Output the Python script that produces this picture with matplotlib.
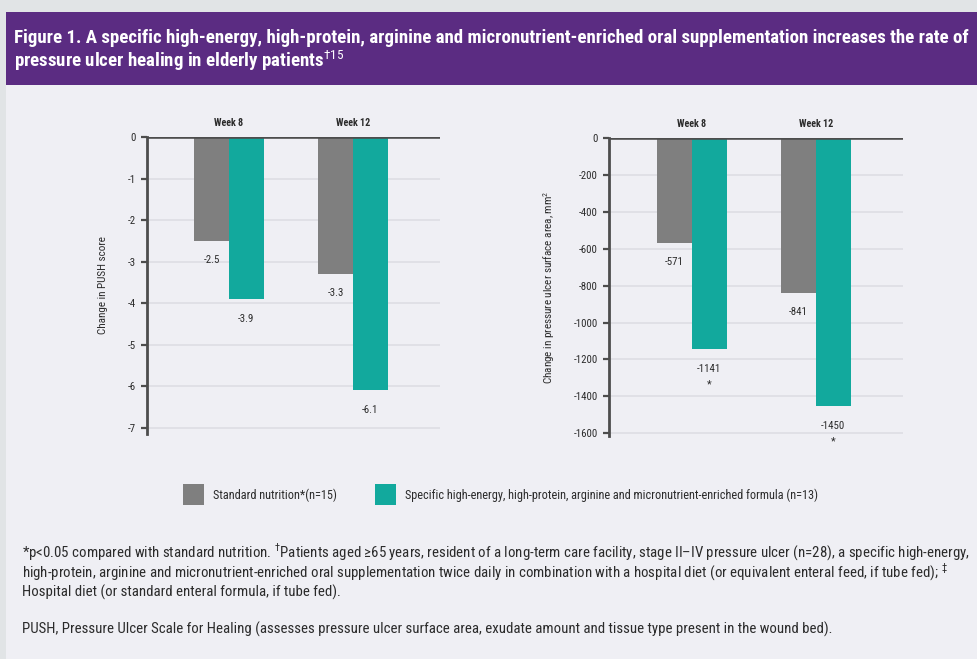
import matplotlib
matplotlib.use("Agg")
import matplotlib.pyplot as plt
from matplotlib.patches import Rectangle
from matplotlib import font_manager

# ---- data ----
weeks = ["Week 8", "Week 12"]
push_standard = [-2.5, -3.3]
push_enriched = [-3.9, -6.1]
area_standard = [-571, -841]
area_enriched = [-1141, -1450]
area_enriched_signif = [True, True]
push_ticks = [0, -1, -2, -3, -4, -5, -6, -7]
area_ticks = [0, -200, -400, -600, -800, -1000, -1200, -1400, -1600]

legend_labels = ["Standard nutrition*(n=15)",
                 "Specific high-energy, high-protein, arginine and micronutrient-enriched formula (n=13)"]

title_lines = ["Figure 1. A specific high-energy, high-protein, arginine and micronutrient-enriched oral supplementation increases the rate of",
               "pressure ulcer healing in elderly patients$^{\\dagger 15}$"]

footnotes = [
    "*p<0.05 compared with standard nutrition. $^{\\dagger}$Patients aged \u226565 years, resident of a long-term care facility, stage II\u2013IV pressure ulcer (n=28), a specific high-energy,",
    "high-protein, arginine and micronutrient-enriched oral supplementation twice daily in combination with a hospital diet (or equivalent enteral feed, if tube fed); $^{\\ddagger}$",
    "Hospital diet (or standard enteral formula, if tube fed).",
]
abbrev = "PUSH, Pressure Ulcer Scale for Healing (assesses pressure ulcer surface area, exudate amount and tissue type present in the wound bed)."

# ---- style ----
GRAY = "#7f7f7f"
TEAL = "#12a99d"
PURPLE = "#5b2c82"
PANEL = "#efeff4"
OUTER = "#e1e4e6"
AXIS = "#4d4d4d"
TEXT = "#2b2b2b"

names = {f.name for f in font_manager.fontManager.ttflist}
base_font = "DejaVu Sans"
for cand in ["Liberation Sans Narrow", "Roboto Condensed", "Open Sans Condensed",
             "Noto Sans Condensed", "Roboto", "Liberation Sans"]:
    if cand in names:
        base_font = cand
        break
plt.rcParams["font.family"] = [base_font, "DejaVu Sans"]
plt.rcParams["mathtext.fontset"] = "custom"
plt.rcParams["mathtext.rm"] = base_font
plt.rcParams["mathtext.bf"] = base_font + ":bold"

W, H = 977, 659
fig = plt.figure(figsize=(W / 100, H / 100), dpi=100)
fig.patch.set_facecolor(OUTER)
renderer = fig.canvas.get_renderer()


def fx(px):
    return px / W


def fy(py):
    return 1 - py / H


def fit_size(txt, target_px):
    """Scale a text's font size so that it spans target_px horizontally."""
    w = txt.get_window_extent(renderer=renderer).width
    return txt.get_fontsize() * target_px / w


# panel and header band
fig.patches.append(Rectangle((fx(6), 0), 1 - fx(6), fy(12), transform=fig.transFigure,
                             facecolor=PANEL, edgecolor="none", zorder=-2))
fig.patches.append(Rectangle((fx(6), fy(85)), 1 - fx(6), fy(12) - fy(85), transform=fig.transFigure,
                             facecolor=PURPLE, edgecolor="none", zorder=-1))

t1 = fig.text(fx(14), fy(43), title_lines[0], color="white", fontsize=11, fontweight="bold",
              va="baseline", ha="left")
size_title = fit_size(t1, 950)
t1.set_fontsize(size_title)
fig.text(fx(14), fy(67), title_lines[1], color="white", fontsize=size_title, fontweight="bold",
         va="baseline", ha="left")

bar_w = 0.28


def make_panel(left_px, right_px, top_px, bottom_px, centre_px, ymin, ticks, std, enr,
               ylabel, fmt, pad, signif=None):
    ax = fig.add_axes([fx(left_px), fy(bottom_px), fx(right_px - left_px), (bottom_px - top_px) / H])
    ax.set_facecolor("none")
    spacing = 124.0
    x0 = (left_px - centre_px) / spacing
    x1 = (right_px - centre_px) / spacing
    ax.set_xlim(x0, x1)
    ax.set_ylim(ymin, 0)
    xs = list(range(len(weeks)))
    ax.bar([x - bar_w / 2 for x in xs], std, width=bar_w, color=GRAY, zorder=2)
    ax.bar([x + bar_w / 2 for x in xs], enr, width=bar_w, color=TEAL, zorder=2)

    for t in ticks[1:]:
        ax.axhline(t, color="#dedde4", lw=1.2, zorder=1)
    ax.axhline(0, color=AXIS, lw=2.6, zorder=3)

    for s in ["top", "right", "bottom"]:
        ax.spines[s].set_visible(False)
    ax.spines["left"].set_color(AXIS)
    ax.spines["left"].set_linewidth(2.0)
    ax.set_xticks([])
    ax.set_yticks(ticks)
    ax.set_yticklabels([str(t) for t in ticks])
    ax.tick_params(axis="y", direction="out", length=4, width=1.6, color=AXIS,
                   labelsize=7.8, labelcolor=TEXT, pad=4)
    ax.set_ylabel(ylabel, fontsize=8, color=TEXT, labelpad=pad)

    for i, w in enumerate(weeks):
        ax.annotate(w, (i, 0), xytext=(0, 9), textcoords="offset pixels",
                    ha="center", va="bottom", fontsize=7.2, fontweight="bold", color=TEXT)
        ax.annotate(fmt(std[i]), (i - bar_w / 2, std[i]), xytext=(0, -19), textcoords="offset pixels",
                    ha="center", va="center", fontsize=7.8, color=TEXT)
        ax.annotate(fmt(enr[i]), (i + bar_w / 2, enr[i]), xytext=(0, -20), textcoords="offset pixels",
                    ha="center", va="center", fontsize=7.8, color=TEXT)
        if signif is not None and signif[i]:
            ax.annotate("*", (i + bar_w / 2, enr[i]), xytext=(0, -36), textcoords="offset pixels",
                        ha="center", va="center", fontsize=8, color=TEXT)
    return ax


make_panel(147, 440, 137, 434, 229, -7.15, push_ticks, push_standard, push_enriched,
           "Change in PUSH score", lambda v: f"{v:.1f}", pad=14)
make_panel(609, 903, 138, 436, 692, -1615, area_ticks, area_standard, area_enriched,
           "Change in pressure ulcer surface area, mm$^{2}$", lambda v: f"{v:d}", pad=12,
           signif=area_enriched_signif)

# legend
leg_texts = []
for (sx, col, lab) in [(183, GRAY, legend_labels[0]), (375, TEAL, legend_labels[1])]:
    fig.patches.append(Rectangle((fx(sx), fy(505)), fx(21), fy(484) - fy(505), transform=fig.transFigure,
                                 facecolor=col, edgecolor="none"))
    leg_texts.append(fig.text(fx(sx + 30), fy(495), lab, fontsize=7, color=TEXT, va="center", ha="left"))
size_leg = fit_size(leg_texts[1], 415)
for t in leg_texts:
    t.set_fontsize(size_leg)

# footnotes
f1 = fig.text(fx(22), fy(557), footnotes[0], fontsize=8, color=TEXT, va="baseline", ha="left")
size_foot = fit_size(f1, 950)
f1.set_fontsize(size_foot)
for k, line in enumerate(footnotes[1:], start=1):
    fig.text(fx(22), fy(557 + 20 * k), line, fontsize=size_foot, color=TEXT, va="baseline", ha="left")
fig.text(fx(22), fy(634), abbrev, fontsize=size_foot, color=TEXT, va="baseline", ha="left")

fig.savefig("out.png", dpi=100, facecolor=fig.get_facecolor())
